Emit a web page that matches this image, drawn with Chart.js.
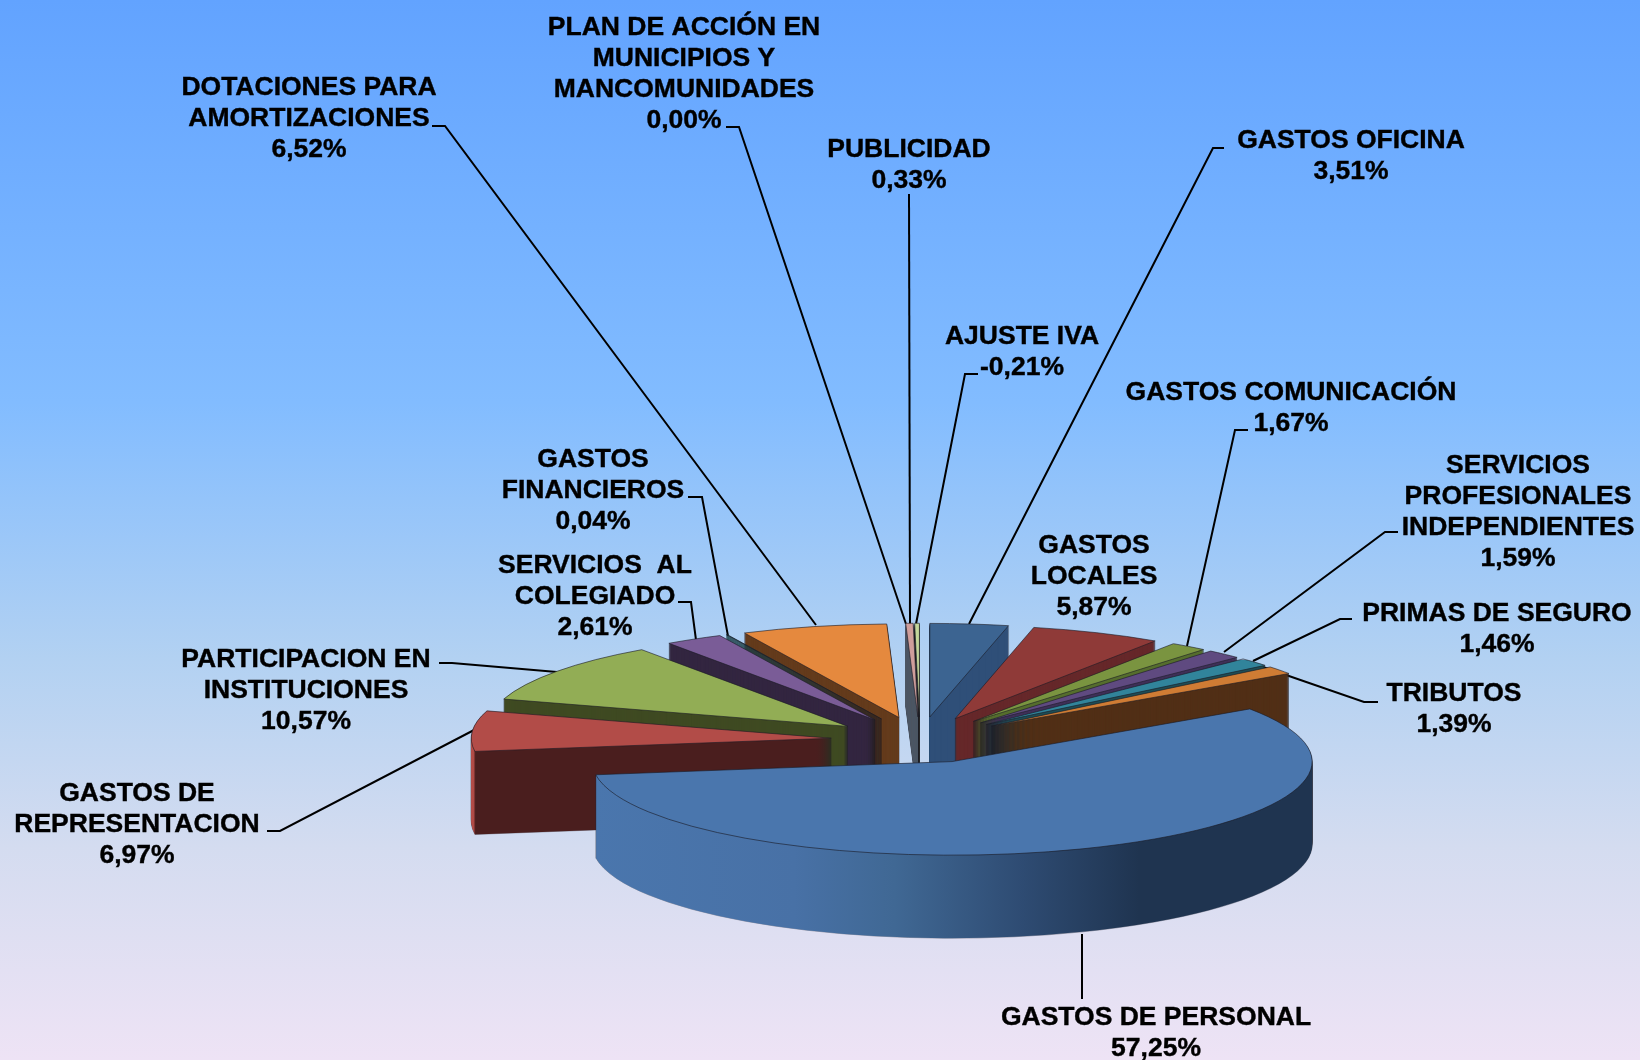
<!DOCTYPE html>
<html>
<head>
<meta charset="utf-8">
<title>Gastos</title>
<script src="https://cdn.jsdelivr.net/npm/chart.js@4/dist/chart.umd.js"></script>
<style>
    html, body { margin: 0; padding: 0; background: #fff; }
    canvas { display: block; }
</style>
</head>
<body>
<canvas id="pieChart" width="1640" height="1060"></canvas>
<script>
// Data, clockwise from twelve o'clock
const categories = [
    'GASTOS OFICINA', 'GASTOS\nLOCALES', 'GASTOS COMUNICACIÓN',
    'SERVICIOS\nPROFESIONALES\nINDEPENDIENTES', 'PRIMAS DE SEGURO', 'TRIBUTOS',
    'GASTOS DE PERSONAL', 'GASTOS DE\nREPRESENTACION', 'PARTICIPACION EN\nINSTITUCIONES',
    'SERVICIOS  AL\nCOLEGIADO', 'GASTOS\nFINANCIEROS', 'DOTACIONES PARA\nAMORTIZACIONES',
    'PLAN DE ACCIÓN EN\nMUNICIPIOS Y\nMANCOMUNIDADES', 'PUBLICIDAD', 'AJUSTE IVA'
];
const percentages = [3.51, 5.87, 1.67, 1.59, 1.46, 1.39, 57.25, 6.97, 10.57, 2.61, 0.04, 6.52, 0.00, 0.33, -0.21];

// Colours of each slice: top face and side wall
const faceColors = [
    '#3c6491', '#8f3a38', '#7a9440', '#5f4a80', '#31849b', '#cf7c34', '#4a76ad', '#b24c48',
    '#92ad55', '#7a5c97', '#1f6070', '#e5893e', '#4a76ad', '#cf9e9b', '#c3d69b'
];
const wallColors = [
    '#2f4f78', '#66282a', '#566e2e', '#3f3058', '#1f4d55', '#512f16', '#1e3350', '#4a1e1e',
    '#3f4a22', '#332640', '#1f5058', '#643b1c', '#2f4f78', '#4d5764', '#2c2c2c'
];

// Text anchors: centre x and first baseline y of every label
const labelAnchors = [
    [1351, 148], [1094, 553], [1291, 400], [1518, 473], [1497, 621], [1454, 701],
    [1156, 1025], [137, 801], [306, 667], [595, 573], [593, 467], [309, 95],
    [684, 35], [909, 157], [1022, 344]
];
// Leader lines, from the label to the slice rim
const leaderLines = [
    [[1224, 148], [1213, 148], [969, 624]],
    null,
    [[1248, 430], [1235, 430], [1187, 646]],
    [[1398, 532], [1385, 532], [1224, 652]],
    [[1352, 619], [1340, 619], [1253, 661]],
    [[1378, 702], [1364, 702], [1260, 666]],
    [[1082, 999], [1082, 934]],
    [[267, 831], [280, 831], [476, 729]],
    [[439, 663], [452, 663], [557, 672]],
    [[678, 602], [691, 602], [696, 640]],
    [[688, 497], [702, 497], [728, 636]],
    [[432, 126], [445, 126], [816, 625]],
    [[726, 127], [739, 127], [906, 624]],
    [[909, 194], [910, 624]],
    [[978, 374], [965, 374], [916, 624]]
];

const TILT = 0.26;
const DEPTH = 83;
const EXPLODE = 89;
const RADIUS = 360;

function drawArcAs(ctx, arc, fill, stroke, width) {
    const el = Object.create(arc);
    el.options = Object.assign({}, arc.options, {
        backgroundColor: fill,
        borderColor: stroke,
        borderWidth: width
    });
    el.draw(ctx);
}

function wallFill(ctx, arc, index) {
    if (index === 6) {
        const g = ctx.createLinearGradient(arc.x - RADIUS, 0, arc.x + RADIUS, 0);
        g.addColorStop(0, '#4a76ad');
        g.addColorStop(0.28, '#4871a6');
        g.addColorStop(0.42, '#406894');
        g.addColorStop(0.6, '#2e4b72');
        g.addColorStop(0.76, '#1f3450');
        g.addColorStop(1, '#1f3450');
        return g;
    }
    if (index === 7) {
        const g = ctx.createLinearGradient(arc.x - RADIUS, 0, arc.x + RADIUS, 0);
        g.addColorStop(0, '#b24c48');
        g.addColorStop(0.003, '#b24c48');
        g.addColorStop(0.006, wallColors[index]);
        g.addColorStop(1, wallColors[index]);
        return g;
    }
    return wallColors[index];
}

const piePlugin = {
    id: 'tiltedPie',
    beforeDraw(chart) {
        const ctx = chart.ctx;
        const g = ctx.createLinearGradient(0, 0, 0, chart.height);
        g.addColorStop(0, '#62a3ff');
        g.addColorStop(0.38, '#82bcff');
        g.addColorStop(0.62, '#b2d1f2');
        g.addColorStop(0.8, '#d4dcf0');
        g.addColorStop(1, '#eee3f5');
        ctx.fillStyle = g;
        ctx.fillRect(0, 0, chart.width, chart.height);
    },
    beforeDatasetsDraw(chart) {
        const ctx = chart.ctx;
        const arcs = chart.getDatasetMeta(0).data;

        // leaders go behind the slices
        ctx.save();
        ctx.strokeStyle = '#000';
        ctx.lineWidth = 2;
        leaderLines.forEach(line => {
            if (!line) return;
            ctx.beginPath();
            line.forEach((p, i) => i ? ctx.lineTo(p[0], p[1]) : ctx.moveTo(p[0], p[1]));
            ctx.stroke();
        });
        ctx.restore();

        // stroke in device space so the flattening does not thin the outlines
        const nativeStroke = ctx.stroke;
        ctx.stroke = function() {
            const m = ctx.getTransform();
            ctx.setTransform(1, 0, 0, 1, 0, 0);
            nativeStroke.call(ctx);
            ctx.setTransform(m);
        };

        // back to front
        const order = arcs.map((a, i) => i).sort((a, b) => {
            const mid = i => (arcs[i].startAngle + arcs[i].endAngle) / 2;
            return Math.sin(mid(a)) - Math.sin(mid(b));
        });

        order.forEach(i => {
            const arc = arcs[i];
            const mid = (arc.startAngle + arc.endAngle) / 2;
            const place = depth => {
                ctx.setTransform(1, 0, 0, 1, 0, 0);
                ctx.translate(arc.x, arc.y + depth);
                ctx.scale(1, TILT);
                ctx.translate(Math.cos(mid) * EXPLODE, Math.sin(mid) * EXPLODE);
                ctx.translate(-arc.x, -arc.y);
            };
            ctx.save();
            for (let d = DEPTH; d > 0; d--) {
                place(d);
                drawArcAs(ctx, arc, 'rgba(0,0,0,0)', 'rgba(25,25,35,0.35)', 1);
            }
            for (let d = DEPTH; d > 0; d--) {
                place(d);
                drawArcAs(ctx, arc, wallFill(ctx, arc, i), 'rgba(0,0,0,0)', 0);
            }
            place(0);
            drawArcAs(ctx, arc, faceColors[i], 'rgba(25,25,35,0.6)', 1);
            ctx.restore();
        });

        delete ctx.stroke;
        return false;
    },
    afterDraw(chart) {
        const ctx = chart.ctx;
        ctx.save();
        ctx.fillStyle = '#000';
        ctx.strokeStyle = '#000';
        ctx.lineWidth = 0.4;
        ctx.font = 'bold 26.5px "Liberation Sans"';
        ctx.textAlign = 'center';
        ctx.textBaseline = 'alphabetic';
        categories.forEach((name, i) => {
            const lines = name.split('\n');
            lines.push(percentages[i].toFixed(2).replace('.', ',') + '%');
            lines.forEach((text, k) => {
                ctx.fillText(text, labelAnchors[i][0], labelAnchors[i][1] + k * 31);
                ctx.strokeText(text, labelAnchors[i][0], labelAnchors[i][1] + k * 31);
            });
        });
        ctx.restore();
    }
};

new Chart(document.getElementById('pieChart'), {
    type: 'pie',
    data: {
        labels: categories,
        datasets: [{
            data: percentages,
            backgroundColor: faceColors,
            borderWidth: 1
        }]
    },
    options: {
        responsive: false,
        animation: false,
        rotation: 0,
        radius: RADIUS,
        layout: { padding: { left: 200, top: 420 } },
        plugins: {
            legend: { display: false },
            tooltip: { enabled: false }
        }
    },
    plugins: [piePlugin]
});
</script>
</body>
</html>
